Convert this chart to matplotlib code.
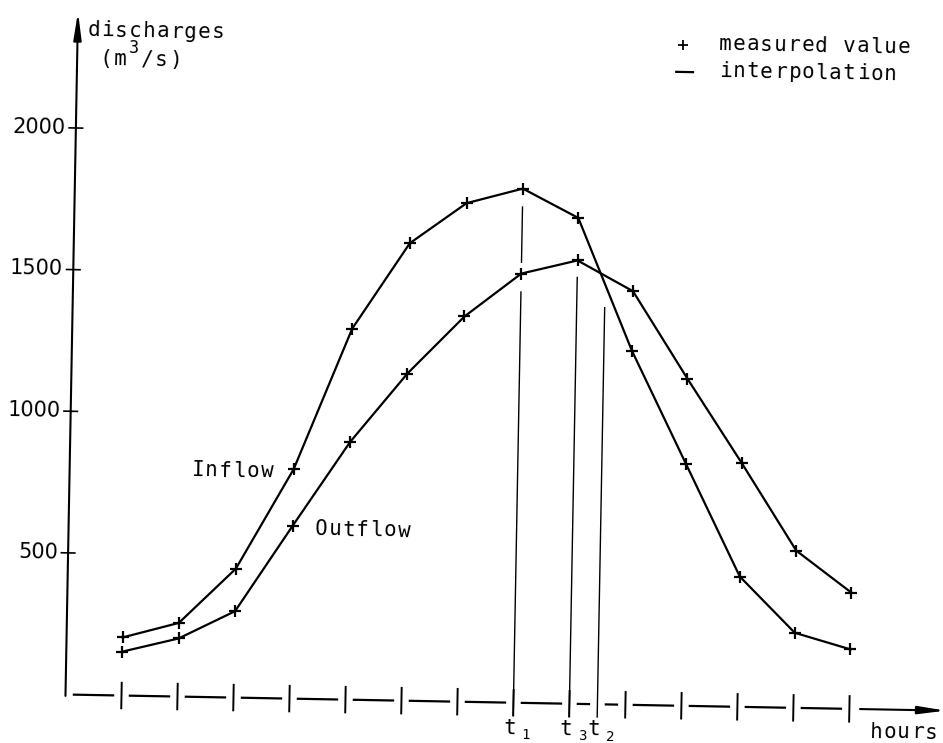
import matplotlib
matplotlib.use('Agg')
import matplotlib.pyplot as plt
from matplotlib.transforms import Affine2D
from matplotlib.patches import FancyArrowPatch

# measured discharges (m3/s) per hour
hours = [1, 2, 3, 4, 5, 6, 7, 8, 9, 10, 11, 12, 13, 14]
inflow = [205, 260, 455, 810, 1310, 1615, 1760, 1815, 1715, 1250, 855, 460, 265, 210]
outflow = [155, 205, 305, 610, 910, 1155, 1360, 1515, 1565, 1460, 1155, 860, 555, 410]

y_ticks = [500, 1000, 1500, 2000]
y_labels = ['500', '1000', '1500', '2000']

# characteristic times t1, t3, t2 and the visible pieces of their lines
t_pos = [8, 9, 9.5]
t_sub = ['1', '3', '2']
t_pieces = [[(-45, 1450), (1555, 1750)], [(-45, 1505)], [(-45, 1400)]]

fig = plt.figure(figsize=(9.43, 7.43), dpi=100)
ax = fig.add_axes([0, 0, 1, 1])
ax.set_autoscale_on(False)
ax.set_xlim(-65.5 / 56, 877.5 / 56)
ax.set_ylim(-48.5 / 0.2833, 694.5 / 0.2833)
ax.axis('off')

# the scanned drawing is turned by about one degree
tr = ax.transData + Affine2D().rotate_deg_around(65.5, 48.5, -1.05)
ROT = -1.05
PITCH = 13.8 / 56


def mono(h, v, s, size=15):
    for i, ch in enumerate(s):
        if ch != ' ':
            ax.text(h + (i + 0.5) * PITCH, v, ch, transform=tr, fontsize=size,
                    family='DejaVu Sans Mono', ha='center', va='baseline',
                    rotation=ROT, rotation_mode='anchor')


# y axis with arrow and ticks
ax.add_patch(FancyArrowPatch((0, -5), (0, 2410), transform=tr,
                             arrowstyle='-|>,head_length=0.9,head_width=0.13',
                             mutation_scale=18, lw=1.5, color='k',
                             shrinkA=0, shrinkB=0))
for v, lab in zip(y_ticks, y_labels):
    ax.plot([-0.12, 0.12], [v, v], transform=tr, color='k', lw=1.2, clip_on=False)
    ax.text(-0.18, v, lab, transform=tr, fontsize=15, family='DejaVu Sans',
            ha='right', va='center', rotation=ROT, rotation_mode='anchor')

# x axis drawn as dashes between the ticks
stops = sorted([0] + hours + [9.5])
for a, b in zip(stops[:-1], stops[1:]):
    ax.plot([a + 0.15, b - 0.15], [0, 0], transform=tr, color='k', lw=1.6,
            clip_on=False)
for h in hours:
    ax.plot([h, h], [-45, 45], transform=tr, color='k', lw=1.4, clip_on=False)
ax.add_patch(FancyArrowPatch((hours[-1] + 0.19, 0), (15.72, 0), transform=tr,
                             arrowstyle='-|>,head_length=0.9,head_width=0.13',
                             mutation_scale=18, lw=1.5, color='k',
                             shrinkA=0, shrinkB=0))

# vertical lines marking t1, t3, t2
for h, pieces, sub in zip(t_pos, t_pieces, t_sub):
    for lo, hi in pieces:
        ax.plot([h, h], [lo, hi], transform=tr, color='k', lw=1.0, clip_on=False)
    mono(h - 0.18, -110, 't')
    ax.text(h + 0.16, -128, sub, transform=tr, fontsize=10, family='DejaVu Sans Mono',
            ha='left', va='baseline', rotation=ROT, rotation_mode='anchor')

# hydrographs
ax.plot(hours, inflow, transform=tr, color='k', lw=1.6, marker='+', ms=8,
        mew=1.6, clip_on=False)
ax.plot(hours, outflow, transform=tr, color='k', lw=1.6, marker='+', ms=8,
        mew=1.6, clip_on=False)

# labels
mono(0.17, 2325, 'discharges')
mono(0.40, 2224, '(m /s)')
ax.text(0.40 + 2.5 * PITCH, 2268, '3', transform=tr, fontsize=12,
        family='DejaVu Sans Mono', ha='center', va='baseline',
        rotation=ROT, rotation_mode='anchor')
mono(2.17, 779, 'Inflow')
mono(4.39, 579, 'Outflow')
mono(14.36, -100, 'hours')

# legend
ax.plot([10.81], [2333], transform=tr, color='k', marker='+', ms=7, mew=1.3,
        ls='none', clip_on=False)
ax.plot([10.70, 11.00], [2237, 2237], transform=tr, color='k', lw=1.6,
        clip_on=False)
mono(11.44, 2317, 'measured value')
mono(11.45, 2222, 'interpolation')

fig.savefig('out.png', dpi=100, facecolor='white')
